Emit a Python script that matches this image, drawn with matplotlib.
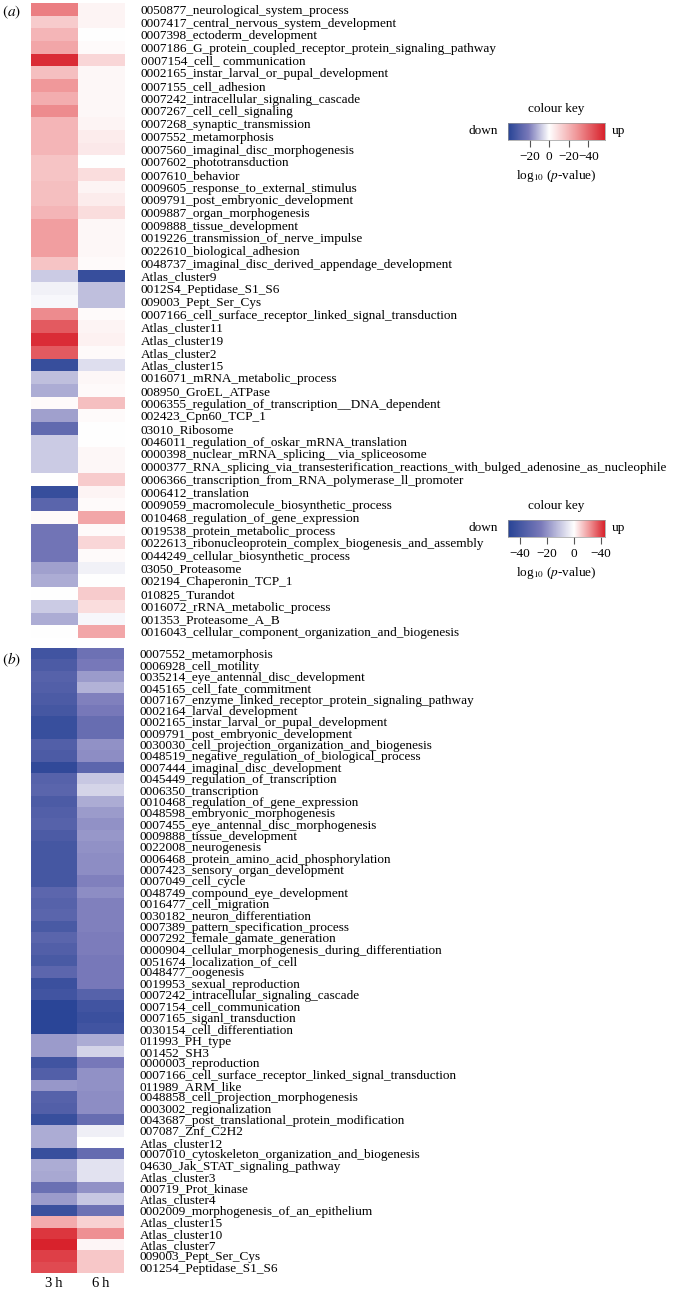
import numpy as np
import matplotlib
matplotlib.use('Agg')
import matplotlib.pyplot as plt
from matplotlib.colors import LinearSegmentedColormap, TwoSlopeNorm

plt.rcParams['font.family'] = ['Liberation Serif', 'DejaVu Serif']
plt.rcParams['mathtext.fontset'] = 'stix'

# ---- panel (a) data: signed log10(p-value) scores (negative = down, positive = up)
labels_a = [
    '0050877_neurological_system_process',
    '0007417_central_nervous_system_development',
    '0007398_ectoderm_development',
    '0007186_G_protein_coupled_receptor_protein_signaling_pathway',
    '0007154_cell_ communication',
    '0002165_instar_larval_or_pupal_development',
    '0007155_cell_adhesion',
    '0007242_intracellular_signaling_cascade',
    '0007267_cell_cell_signaling',
    '0007268_synaptic_transmission',
    '0007552_metamorphosis',
    '0007560_imaginal_disc_morphogenesis',
    '0007602_phototransduction',
    '0007610_behavior',
    '0009605_response_to_external_stimulus',
    '0009791_post_embryonic_development',
    '0009887_organ_morphogenesis',
    '0009888_tissue_development',
    '0019226_transmission_of_nerve_impulse',
    '0022610_biological_adhesion',
    '0048737_imaginal_disc_derived_appendage_development',
    'Atlas_cluster9',
    '0012S4_Peptidase_S1_S6',
    '009003_Pept_Ser_Cys',
    '0007166_cell_surface_receptor_linked_signal_transduction',
    'Atlas_cluster11',
    'Atlas_cluster19',
    'Atlas_cluster2',
    'Atlas_cluster15',
    '0016071_mRNA_metabolic_process',
    '008950_GroEL_ATPase',
    '0006355_regulation_of_transcription__DNA_dependent',
    '002423_Cpn60_TCP_1',
    '03010_Ribosome',
    '0046011_regulation_of_oskar_mRNA_translation',
    '0000398_nuclear_mRNA_splicing__via_spliceosome',
    '0000377_RNA_splicing_via_transesterification_reactions_with_bulged_adenosine_as_nucleophile',
    '0006366_transcription_from_RNA_polymerase_ll_promoter',
    '0006412_translation',
    '0009059_macromolecule_biosynthetic_process',
    '0010468_regulation_of_gene_expression',
    '0019538_protein_metabolic_process',
    '0022613_ribonucleoprotein_complex_biogenesis_and_assembly',
    '0044249_cellular_biosynthetic_process',
    '03050_Proteasome',
    '002194_Chaperonin_TCP_1',
    '010825_Turandot',
    '0016072_rRNA_metabolic_process',
    '001353_Proteasome_A_B',
    '0016043_cellular_component_organization_and_biogenesis',
]
a_3h = [34, 14, 20, 24, 54, 17, 28, 22, 31, 20, 20, 20, 16, 16, 17, 17, 20, 26, 26, 26,
        16, -8, -2, -1, 31, 43, 54, 43, -38, -10, -13, 1, -15, -27, -8, -8, -8, 0, -38, -29,
        1, -23, -23, -23, -15, -13, 0, -8, -13, 0]
a_6h = [3, 3, 0, 1, 11, 2, 2, 2, 2, 3, 5, 6, 0, 9, 3, 5, 9, 2, 2, 2,
        1, -38, -10, -10, 1, 3, 4, 1, -5, 2, 1, 17, 1, 0, 0, 2, 2, 14, 3, 1,
        24, 1, 11, 1, -2, 0, 14, 9, -1, 24]

# ---- panel (b) data
labels_b = [
    '0007552_metamorphosis',
    '0006928_cell_motility',
    '0035214_eye_antennal_disc_development',
    '0045165_cell_fate_commitment',
    '0007167_enzyme_linked_receptor_protein_signaling_pathway',
    '0002164_larval_development',
    '0002165_instar_larval_or_pupal_development',
    '0009791_post_embryonic_development',
    '0030030_cell_projection_organization_and_biogenesis',
    '0048519_negative_regulation_of_biological_process',
    '0007444_imaginal_disc_development',
    '0045449_regulation_of_transcription',
    '0006350_transcription',
    '0010468_regulation_of_gene_expression',
    '0048598_embryonic_morphogenesis',
    '0007455_eye_antennal_disc_morphogenesis',
    '0009888_tissue_development',
    '0022008_neurogenesis',
    '0006468_protein_amino_acid_phosphorylation',
    '0007423_sensory_organ_development',
    '0007049_cell_cycle',
    '0048749_compound_eye_development',
    '0016477_cell_migration',
    '0030182_neuron_differentiation',
    '0007389_pattern_specification_process',
    '0007292_female_gamate_generation',
    '0000904_cellular_morphogenesis_during_differentiation',
    '0051674_localization_of_cell',
    '0048477_oogenesis',
    '0019953_sexual_reproduction',
    '0007242_intracellular_signaling_cascade',
    '0007154_cell_communication',
    '0007165_siganl_transduction',
    '0030154_cell_differentiation',
    '011993_PH_type',
    '001452_SH3',
    '0000003_reproduction',
    '0007166_cell_surface_receptor_linked_signal_transduction',
    '011989_ARM_like',
    '0048858_cell_projection_morphogenesis',
    '0003002_regionalization',
    '0043687_post_translational_protein_modification',
    '007087_Znf_C2H2',
    'Atlas_cluster12',
    '0007010_cytoskeleton_organization_and_biogenesis',
    '04630_Jak_STAT_signaling_pathway',
    'Atlas_cluster3',
    '000719_Prot_kinase',
    'Atlas_cluster4',
    '0002009_morphogenesis_of_an_epithelium',
    'Atlas_cluster15',
    'Atlas_cluster10',
    'Atlas_cluster7',
    '009003_Pept_Ser_Cys',
    '001254_Peptidase_S1_S6',
]
b_3h = [-41, -38, -35, -36, -38, -40, -44, -44, -36, -38, -46, -35, -34, -38, -36, -35, -38, -40, -40, -40,
        -40, -33, -35, -34, -39, -34, -36, -39, -33, -43, -41, -48, -48, -48, -18, -18, -41, -36, -19, -35,
        -36, -44, -15, -15, -44, -15, -16, -29, -18, -43, 9, 21, 24, 20, 19]
b_6h = [-28, -25, -18, -14, -23, -25, -30, -30, -20, -21, -33, -10, -8, -15, -18, -20, -19, -20, -21, -21,
        -23, -21, -23, -23, -23, -24, -24, -25, -25, -25, -35, -41, -43, -41, -15, -8, -25, -20, -20, -21,
        -21, -30, -3, 0, -31, -5, -5, -20, -10, -28, 5, 12, 1, 6, 6]

times = ['3\u2009h', '6\u2009h']

# colour key ranges and ticks as printed in the figure
key_a_range = (-42, 57)
key_a_ticks = [-20, 0, 20, 40]
key_a_labels = ['\u221220', '0', '\u221220', '\u221240']
key_b_range = (-49, 23)
key_b_ticks = [-40, -20, 0, 20]
key_b_labels = ['\u221240', '\u221220', '0', '\u221240']

cmap = LinearSegmentedColormap.from_list('key', [
    (0.00, (40/255, 68/255, 150/255)),
    (0.25, (122/255, 122/255, 186/255)),
    (0.50, (1, 1, 1)),
    (0.75, (240/255, 150/255, 152/255)),
    (1.00, (216/255, 34/255, 44/255)),
])
norm_a = TwoSlopeNorm(vmin=key_a_range[0], vcenter=0, vmax=key_a_range[1])
norm_b = TwoSlopeNorm(vmin=key_b_range[0], vcenter=0, vmax=key_b_range[1])

W, H = 677, 1293
fig = plt.figure(figsize=(W / 100, H / 100), dpi=100)


def px_axes(x0, y0, x1, y1):
    return fig.add_axes([x0 / W, 1 - y1 / H, (x1 - x0) / W, (y1 - y0) / H])


def heatmap(ax, c3, c6, labels, norm):
    data = np.column_stack([c3, c6])
    ax.imshow(data, cmap=cmap, norm=norm, aspect='auto', interpolation='nearest')
    for s in ax.spines.values():
        s.set_visible(False)
    ax.yaxis.tick_right()
    ax.set_yticks(range(len(labels)))
    ax.set_yticklabels(labels, fontsize=9.5)
    ax.tick_params(axis='y', length=0, pad=11.5)
    ax.set_xticks([])


def colour_key(x0, y0, rng, norm, ticks, tlabels):
    cax = px_axes(x0, y0, x0 + 97, y0 + 17)
    grad = np.linspace(rng[0], rng[1], 400)[None, :]
    cax.imshow(grad, cmap=cmap, norm=norm, aspect='auto', extent=[rng[0], rng[1], 0, 1])
    cax.set_yticks([])
    cax.set_xticks(ticks)
    cax.set_xticklabels(tlabels)
    for s in cax.spines.values():
        s.set_linewidth(0.5)
        s.set_edgecolor('#999999')
    cax.tick_params(axis='x', length=5, width=0.8, color='#555555', labelsize=9.5, pad=3)
    fig.text((x0 + 48) / W, 1 - (y0 - 14) / H, 'colour key', ha='center', va='center', fontsize=9.5)
    fig.text((x0 - 25) / W, 1 - (y0 + 8) / H, 'down', ha='center', va='center', fontsize=9.5)
    fig.text((x0 + 104) / W, 1 - (y0 + 8) / H, 'up', ha='left', va='center', fontsize=9.5)
    fig.text((x0 + 48) / W, 1 - (y0 + 53) / H, r'log$_{10}$ ($p$-value)', ha='center', va='center',
             fontsize=9.5)


ax_a = px_axes(31, 3, 125, 638)
heatmap(ax_a, a_3h, a_6h, labels_a, norm_a)

ax_b = px_axes(31, 648, 124, 1273)
heatmap(ax_b, b_3h, b_6h, labels_b, norm_b)
ax_b.set_xticks([0, 1])
ax_b.set_xticklabels(times, fontsize=10.5)
ax_b.tick_params(axis='x', length=0, pad=3)

fig.text(2 / W, 1 - 12 / H, r'$(a)$', fontsize=11, va='center')
fig.text(2 / W, 1 - 660 / H, r'$(b)$', fontsize=11, va='center')

colour_key(508, 123, key_a_range, norm_a, key_a_ticks, key_a_labels)
colour_key(508, 520, key_b_range, norm_b, key_b_ticks, key_b_labels)

fig.savefig('out.png', dpi=100)
